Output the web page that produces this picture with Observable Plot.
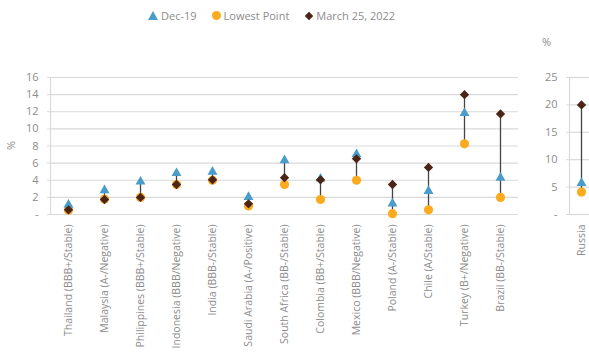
<!DOCTYPE html>
<html>
<head>
<meta charset="utf-8">
<script src="https://cdn.jsdelivr.net/npm/d3@7"></script>
<script src="https://cdn.jsdelivr.net/npm/@observablehq/plot@0.6"></script>
<style>
  html, body { margin: 0; padding: 0; background: #fff; overflow: hidden; }
  #wrap { position: relative; width: 589px; height: 359px; font-family: "Open Sans", sans-serif; color: #8c8c8c; }
  #legend { position: absolute; top: 8px; left: 148px; display: flex; align-items: center; font-size: 11px; white-space: nowrap; }
  #legend .item { display: flex; align-items: center; margin-right: 15px; }
  #legend .sym { margin-right: 3px; }
  .tri { width: 0; height: 0; border-left: 5px solid transparent; border-right: 5px solid transparent; border-bottom: 9px solid #4a9dca; }
  .cir { width: 9px; height: 9px; border-radius: 50%; background: #fdab1e; }
  .dia { width: 6px; height: 6px; background: #4b2416; transform: rotate(45deg); margin-left: 2px; margin-right: 4px !important; }
  #left { position: absolute; left: 0; top: 30px; width: 530px; }
  #right { position: absolute; left: 530px; top: 30px; width: 63px; }
  .pct { position: absolute; font-size: 11px; }
  #pctL { left: 6px; top: 138px; transform: rotate(-90deg); }
  #pctR { left: 542px; top: 34px; }
</style>
</head>
<body>
<div id="wrap">
  <div id="legend">
    <div class="item"><div class="sym tri"></div><span>Dec-19</span></div>
    <div class="item"><div class="sym cir"></div><span>Lowest Point</span></div>
    <div class="item"><div class="sym dia"></div><span>March 25, 2022</span></div>
  </div>
  <div id="left"></div>
  <div id="right"></div>
  <span class="pct" id="pctL">%</span>
  <span class="pct" id="pctR">%</span>
</div>
<script>
// Sovereign values (%) for three dates, by country (rating/outlook)
const countries = [
  "Thailand (BBB+/Stable)", "Malaysia (A-/Negative)", "Philippines (BBB+/Stable)",
  "Indonesia (BBB/Negative)", "India (BBB-/Stable)", "Saudi Arabia (A-/Positive)",
  "South Africa (BB-/Stable)", "Colombia (BB+/Stable)", "Mexico (BBB/Negative)",
  "Poland (A-/Stable)", "Chile (A/Stable)", "Turkey (B+/Negative)", "Brazil (BB-/Stable)"
];
const dec19  = [1.3, 3.0, 4.0, 5.0, 5.15, 2.2, 6.5, 4.35, 7.2, 1.45, 2.9, 12.0, 4.45];
const lowest = [0.5, 1.8, 2.0, 3.5, 4.0, 1.0, 3.5, 1.75, 4.0, 0.1, 0.55, 8.25, 2.0];
const mar22  = [0.55, 1.75, 2.0, 3.5, 4.05, 1.25, 4.3, 4.05, 6.5, 3.5, 5.5, 14.0, 11.75];

// Russia is shown on its own scale
const russia = ["Russia"];
const russiaDec19 = [6.0];
const russiaLowest = [4.1];
const russiaMar22 = [20.0];

const leftTicks = [0, 2, 4, 6, 8, 10, 12, 14, 16];
const rightTicks = [0, 5, 10, 15, 20, 25];

const BLUE = "#4a9dca", ORANGE = "#fdab1e", BROWN = "#4b2416";
const GRID = "#d9d9d9", STEM = "#444";
const fmt = d => d === 0 ? "-" : String(d);

function panel({names, d19, low, m22, ticks, width, marginLeft, marginRight, bandHalf}) {
  const rows = names.map((c, i) => ({country: c, dec19: d19[i], lowest: low[i], mar22: m22[i]}));
  return Plot.plot({
    width, height: 329,
    marginLeft, marginRight, marginTop: 47, marginBottom: 145,
    style: {fontFamily: "Open Sans, sans-serif", fontSize: "10.5px", color: "#8c8c8c", background: "transparent", overflow: "visible", maxWidth: "none"},
    x: {type: "band", domain: names, padding: 0},
    y: {domain: [0, ticks[ticks.length - 1]]},
    marks: [
      Plot.gridY(ticks, {stroke: GRID, strokeOpacity: 1, strokeWidth: 1.2}),
      Plot.axisY(ticks, {tickFormat: fmt, tickSize: 3, tickPadding: 9, stroke: GRID, strokeOpacity: 1, label: null, fontSize: 11}),
      Plot.axisX({tickRotate: -90, tickSize: 0, tickPadding: 10, label: null}),
      Plot.ruleX([names[0]], {dx: -bandHalf, stroke: GRID, strokeWidth: 1.2}),
      Plot.ruleX(rows, {x: "country", y1: d => Math.min(d.dec19, d.lowest, d.mar22), y2: d => Math.max(d.dec19, d.lowest, d.mar22), stroke: STEM, strokeWidth: 1.3}),
      Plot.dot(rows, {x: "country", y: "lowest", symbol: "circle", r: 4.6, fill: ORANGE}),
      Plot.dot(rows, {x: "country", y: "dec19", symbol: "triangle", r: 3.7, dy: 1.45, fill: BLUE}),
      Plot.dot(rows, {x: "country", y: "mar22", symbol: "diamond2", r: 4.2, fill: BROWN})
    ]
  });
}

document.getElementById("left").append(panel({
  names: countries, d19: dec19, low: lowest, m22: mar22,
  ticks: leftTicks, width: 530, marginLeft: 50, marginRight: 12, bandHalf: 18
}));

document.getElementById("right").append(panel({
  names: russia, d19: russiaDec19, low: russiaLowest, m22: russiaMar22,
  ticks: rightTicks, width: 63, marginLeft: 39, marginRight: 0, bandHalf: 12
}));
</script>
</body>
</html>
